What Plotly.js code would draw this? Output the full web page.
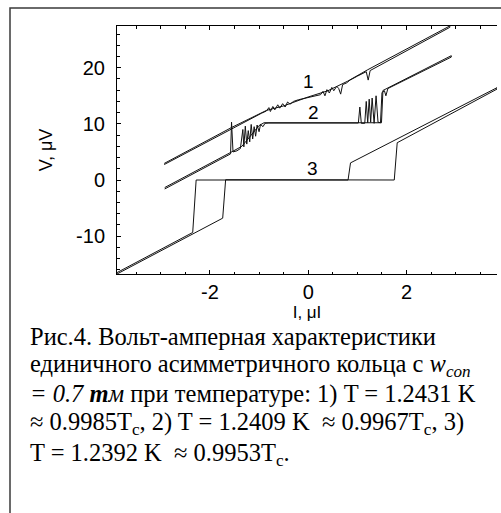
<!DOCTYPE html>
<html>
<head>
<meta charset="utf-8">
<script src="https://cdn.plot.ly/plotly-3.0.1.min.js"></script>
<style>
  html, body { margin: 0; padding: 0; background: #fff; }
  #chart { width: 501px; height: 513px; }
</style>
</head>
<body>
<div id="chart"></div>
<script>
// I–V curves of a single asymmetric ring (current I in µA, voltage V in µV).
// Each curve is a full sweep: current ramped up, then back down.

// 1) T = 1.2431 K
const curve1I = [-2.93, -1.56, -1.20, -0.95, -0.85, -0.80, -0.77, -0.72, -0.68, -0.62, -0.58, -0.52, -0.47,
  -0.42, -0.37, -0.30, -0.20, -0.10, 0.00, 0.10, 0.17, 0.25, 0.30, 0.34, 0.38, 0.43, 0.48, 0.52, 0.58, 0.62,
  0.66, 0.70, 0.78, 0.85, 1.00, 1.18, 1.22, 1.26, 2.88,
  2.88, 1.20, 0.80, 0.40, 0.00, -0.50, -0.85, -1.56, -2.93];
const curve1V = [2.75, 9.15, 10.8, 11.9, 12.3, 12.9, 12.2, 13.1, 12.5, 13.4, 12.8, 13.6, 13.0,
  13.9, 13.5, 14.0, 14.3, 14.5, 14.7, 14.9, 15.1, 15.2, 15.8, 15.0, 16.1, 15.5, 16.5, 15.9, 16.7, 16.3,
  15.3, 17.0, 17.3, 17.8, 18.5, 19.3, 17.8, 19.5, 27.2,
  27.45, 19.6, 17.6, 15.9, 14.8, 13.2, 12.4, 9.35, 2.95];

// 2) T = 1.2409 K
const curve2I = [-2.92, -1.58, -1.56, -1.53, -1.45, -1.38, -1.33, -1.31, -1.28, -1.25, -1.22, -1.19, -1.16,
  -1.13, -1.10, -1.07, -1.04, -1.00, -0.97, -0.92, -0.88, -0.80, 1.02, 1.05, 1.08, 1.15, 1.18, 1.21, 1.24,
  1.27, 1.30, 1.34, 1.38, 1.42, 1.47, 1.50, 1.55, 1.58, 1.62, 2.91,
  2.91, 1.60, 1.52, 1.49, -0.90, -1.00, -1.35, -1.58, -2.92];
const curve2V = [-1.6, 4.65, 10.3, 5.0, 5.2, 5.6, 9.0, 5.9, 9.6, 6.4, 8.8, 6.8, 9.9,
  7.3, 9.5, 7.8, 9.8, 8.6, 9.9, 9.5, 10.1, 10.15, 10.15, 13.0, 10.1, 10.1, 14.0, 10.2, 14.4,
  10.3, 14.6, 10.1, 15.0, 10.3, 10.2, 15.6, 15.9, 15.0, 16.3, 21.9,
  22.15, 16.2, 15.95, 10.2, 10.2, 9.7, 6.0, 4.9, -1.35];

// 3) T = 1.2392 K
const curve3I = [-3.89, -1.74, -1.68, 1.75, 1.81, 3.84,
  3.84, 0.86, 0.81, -2.28, -2.35, -3.89];
const curve3V = [-16.75, -6.8, 0.05, 0.0, 6.64, 16.2,
  16.45, 3.05, 0.0, 0.0, -9.35, -16.5];

// Axis ticks
const xTickVals = [-2, 0, 2];
const xTickText = ['-2', '0', '2'];
const yTickVals = [-10, 0, 10, 20];
const yTickText = ['-10', '0', '10', '20'];

// Curve numbers and caption lines
const curveLabels = ['1', '2', '3'];
const captionLines = [
  'Рис.4. Вольт-амперная характеристики',
  'единичного асимметричного кольца с <i>w<sub>con</sub></i>',
  '<i>= 0.7 <b>m</b>м</i> при температуре: 1) T = 1.2431 K',
  '≈ 0.9985T<sub>c</sub>, 2) T = 1.2409 K  ≈ 0.9967T<sub>c</sub>, 3)',
  'T = 1.2392 K  ≈ 0.9953T<sub>c</sub>.'
];

// Plot-area geometry in page pixels, used to place items outside the axes
const W = 501, H = 513;
const M = { l: 117, r: 4, t: 26, b: 239 };
const pw = W - M.l - M.r, ph = H - M.t - M.b;
const px = x => (x - M.l) / pw;
const py = y => (H - M.b - y) / ph;

const lineStyle = { color: '#111', width: 1 };
const traces = [
  { x: curve1I, y: curve1V },
  { x: curve2I, y: curve2V },
  { x: curve3I, y: curve3V }
].map(t => Object.assign(t, { type: 'scatter', mode: 'lines', line: lineStyle, hoverinfo: 'skip' }));

const sans = 'Liberation Sans, Arial, sans-serif';
const serif = 'Liberation Serif, Times New Roman, serif';

const labelPos = [[0.01, 17.5], [0.10, 12.0], [0.09, 2.0]];
const annotations = curveLabels.map((t, i) => ({
  text: t, x: labelPos[i][0], y: labelPos[i][1], xref: 'x', yref: 'y',
  showarrow: false, xanchor: 'center', yanchor: 'middle',
  font: { family: sans, size: 19, color: '#000' }
}));

const captionY = [336.2, 365.6, 394.4, 423.2, 454.4];
captionLines.forEach((t, i) => annotations.push({
  text: t, x: px(29), y: py(captionY[i]), xref: 'paper', yref: 'paper',
  showarrow: false, xanchor: 'left', yanchor: 'middle', align: 'left', borderpad: 0,
  font: { family: serif, size: 24.5, color: '#000' }
}));

const axisCommon = {
  tickmode: 'array', ticks: 'inside', ticklen: 4, tickwidth: 1, tickcolor: '#000',
  showline: true, linecolor: '#000', linewidth: 1,
  showgrid: false, zeroline: false,
  tickfont: { family: sans, size: 20, color: '#000' }
};

const layout = {
  width: W, height: H, margin: M,
  paper_bgcolor: '#fff', plot_bgcolor: '#fff',
  showlegend: false,
  xaxis: Object.assign({}, axisCommon, {
    range: [-3.89, 3.84], tickvals: xTickVals, ticktext: xTickText, mirror: 'ticks',
    ticklabelstandoff: 0,
    minor: { tickmode: 'linear', tick0: 0, dtick: 0.5, ticks: 'inside', ticklen: 2.5, tickcolor: '#000', showgrid: false },
    title: { text: 'I, μI', font: { family: sans, size: 17, color: '#000' }, standoff: 1 }
  }),
  yaxis: Object.assign({}, axisCommon, {
    range: [-16.75, 27.44], tickvals: yTickVals, ticktext: yTickText, mirror: false,
    ticklabelstandoff: 7,
    minor: { tickmode: 'linear', tick0: 0, dtick: 2, ticks: 'inside', ticklen: 2.5, tickcolor: '#000', showgrid: false },
    title: { text: 'V, μV', font: { family: sans, size: 18, color: '#000' }, standoff: 18 }
  }),
  annotations: annotations,
  shapes: [{
    type: 'path', xref: 'paper', yref: 'paper', layer: 'above',
    path: `M ${px(10)},${py(H + 20)} L ${px(10)},${py(8)} L ${px(W + 20)},${py(8)}`,
    line: { color: '#3a3a3a', width: 1.5 }
  }]
};

Plotly.newPlot('chart', traces, layout, { staticPlot: true, displayModeBar: false });
</script>
</body>
</html>
